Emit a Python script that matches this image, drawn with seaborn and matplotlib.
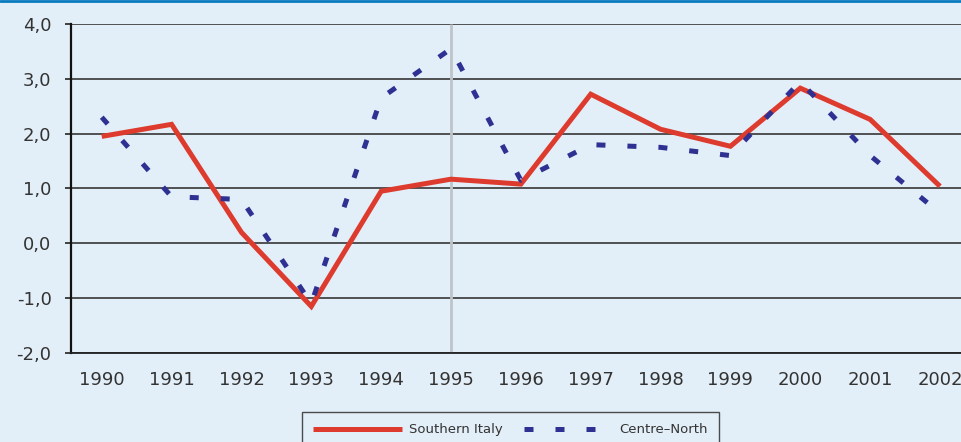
"""
GDP growth: Southern Italy vs Centre-North, 1990-2002.
Saves out.png (962x442).
"""

import matplotlib.pyplot as plt
import matplotlib.ticker as ticker
import pandas as pd
import seaborn as sns


# ── Data ──────────────────────────────────────────────────────────────────────

YEARS: list[int] = list(range(1990, 2003))

SOUTH: list[float] = [1.95, 2.17, 0.20, -1.15, 0.95, 1.17, 1.08,
                      2.72, 2.08, 1.77, 2.83, 2.26, 1.04]
CENTRE_NORTH: list[float] = [2.30, 0.85, 0.80, -1.10, 2.65, 3.55, 1.15,
                             1.80, 1.75, 1.60, 2.95, 1.60, 0.55]

SERIES_NAMES: list[str] = ['Southern Italy', 'Centre–North']
Y_TICKS: list[float] = [-2.0, -1.0, 0.0, 1.0, 2.0, 3.0, 4.0]
MARK_YEAR: int = 1995


# ── Style ─────────────────────────────────────────────────────────────────────

BG: str = '#e3eff8'
RED: str = '#de3b2f'
BLUE: str = '#2e3192'
GRID: str = '#444444'
TEXT: str = '#333333'
DASH: tuple[float, float] = (1.8, 4.4)   # in linewidth units

sns.set_style('white')
plt.rcParams['font.family'] = ['DejaVu Sans']

df = pd.DataFrame({
    'year': YEARS * 2,
    'value': SOUTH + CENTRE_NORTH,
    'series': [SERIES_NAMES[0]] * len(YEARS) + [SERIES_NAMES[1]] * len(YEARS),
})

fig = plt.figure(figsize=(9.62, 4.42), dpi=100, facecolor=BG)
ax = fig.add_axes([0.0738, 0.2014, 1.0 - 0.0738, 0.9457 - 0.2014])
ax.set_facecolor(BG)

ax.axvline(MARK_YEAR, color='#bfc4c8', lw=2, zorder=1)

sns.lineplot(
    data=df, x='year', y='value',
    hue='series', style='series',
    hue_order=SERIES_NAMES, style_order=SERIES_NAMES,
    palette={SERIES_NAMES[0]: RED, SERIES_NAMES[1]: BLUE},
    dashes={SERIES_NAMES[0]: '', SERIES_NAMES[1]: DASH},
    linewidth=3.6, ax=ax, zorder=3, legend=True,
)
for line in ax.get_lines():
    line.set_dash_capstyle('butt')
    line.set_solid_capstyle('butt')
    line.set_solid_joinstyle('miter')

# axes
ax.set_xlim(YEARS[0] - 0.44, YEARS[-1] + 0.315)
ax.set_ylim(Y_TICKS[0], Y_TICKS[-1])
ax.set_xticks(YEARS)
ax.set_yticks(Y_TICKS)
ax.yaxis.set_major_formatter(ticker.FuncFormatter(lambda v, _: f'{v:.1f}'.replace('.', ',')))
ax.set_xlabel('')
ax.set_ylabel('')
ax.grid(axis='y', color=GRID, lw=1.3, zorder=0)
ax.grid(axis='x', visible=False)
ax.set_axisbelow(True)

for side in ('top', 'right'):
    ax.spines[side].set_visible(False)
ax.spines['left'].set_color('#111111')
ax.spines['left'].set_linewidth(1.6)
ax.spines['bottom'].set_color('#222222')
ax.spines['bottom'].set_linewidth(1.3)

ax.tick_params(axis='y', length=4, width=1.2, color='#222222', pad=10,
               labelsize=13, labelcolor=TEXT, left=True)
ax.tick_params(axis='x', length=0, pad=13, labelsize=13, labelcolor=TEXT)

# legend at the bottom, box running off the lower edge
handles, labels = ax.get_legend_handles_labels()
ax.get_legend().remove()
for h in handles:
    h.set_dash_capstyle('butt')
    h.set_solid_capstyle('butt')
leg = fig.legend(
    handles, labels, loc='upper center',
    bbox_to_anchor=(0.531, 1 - 412 / 442), borderaxespad=0,
    ncol=2, frameon=True, fontsize=9.5, handlelength=6.7,
    handletextpad=0.55, columnspacing=1.6, borderpad=0.85, fancybox=False,
)
leg.get_frame().set_edgecolor('#222222')
leg.get_frame().set_linewidth(1.0)
leg.get_frame().set_facecolor(BG)
for txt in leg.get_texts():
    txt.set_color(TEXT)

# thin blue rule along the top edge
fig.add_artist(plt.Line2D([0, 1], [0.997, 0.997], transform=fig.transFigure,
                          color='#0a7abf', lw=2))

fig.savefig('out.png', dpi=100, facecolor=BG)
